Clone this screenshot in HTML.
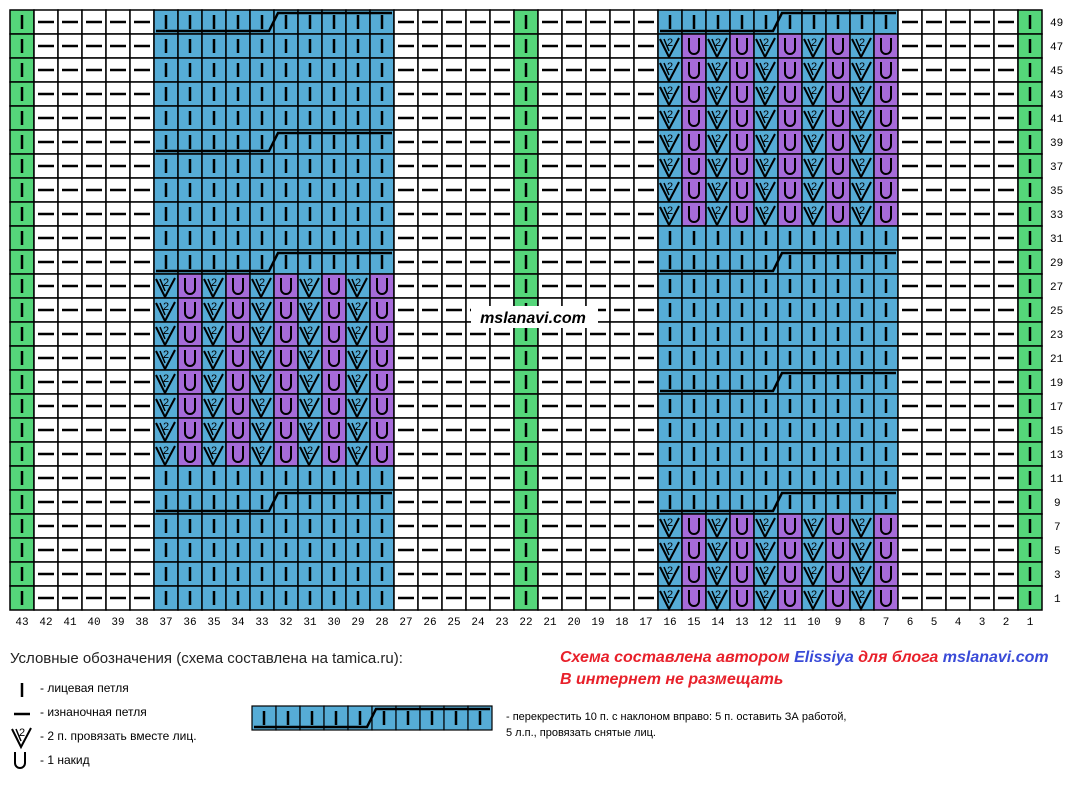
<!DOCTYPE html>
<html><head><meta charset="utf-8"><style>
body{margin:0;background:#fff;width:1076px;height:785px;overflow:hidden;font-family:"Liberation Sans",sans-serif}
svg{position:absolute;left:0;top:0}
.t{position:absolute;white-space:nowrap}
</style></head><body>
<svg id="s" width="1076" height="785" xmlns="http://www.w3.org/2000/svg" font-family="Liberation Mono, monospace" font-size="11" fill="#000">
<g id="cells"></g>
<g text-anchor="middle">
<text x="22" y="625">43</text><text x="46" y="625">42</text><text x="70" y="625">41</text><text x="94" y="625">40</text><text x="118" y="625">39</text><text x="142" y="625">38</text><text x="166" y="625">37</text><text x="190" y="625">36</text><text x="214" y="625">35</text><text x="238" y="625">34</text><text x="262" y="625">33</text><text x="286" y="625">32</text><text x="310" y="625">31</text><text x="334" y="625">30</text><text x="358" y="625">29</text><text x="382" y="625">28</text><text x="406" y="625">27</text><text x="430" y="625">26</text><text x="454" y="625">25</text><text x="478" y="625">24</text><text x="502" y="625">23</text><text x="526" y="625">22</text><text x="550" y="625">21</text><text x="574" y="625">20</text><text x="598" y="625">19</text><text x="622" y="625">18</text><text x="646" y="625">17</text><text x="670" y="625">16</text><text x="694" y="625">15</text><text x="718" y="625">14</text><text x="742" y="625">13</text><text x="766" y="625">12</text><text x="790" y="625">11</text><text x="814" y="625">10</text><text x="838" y="625">9</text><text x="862" y="625">8</text><text x="886" y="625">7</text><text x="910" y="625">6</text><text x="934" y="625">5</text><text x="958" y="625">4</text><text x="982" y="625">3</text><text x="1006" y="625">2</text><text x="1030" y="625">1</text>
</g>
<g>
<text x="1050" y="26">49</text><text x="1050" y="50">47</text><text x="1050" y="74">45</text><text x="1050" y="98">43</text><text x="1050" y="122">41</text><text x="1050" y="146">39</text><text x="1050" y="170">37</text><text x="1050" y="194">35</text><text x="1050" y="218">33</text><text x="1050" y="242">31</text><text x="1050" y="266">29</text><text x="1050" y="290">27</text><text x="1050" y="314">25</text><text x="1050" y="338">23</text><text x="1050" y="362">21</text><text x="1050" y="386">19</text><text x="1050" y="410">17</text><text x="1050" y="434">15</text><text x="1050" y="458">13</text><text x="1050" y="482">11</text><text x="1054" y="506">9</text><text x="1054" y="530">7</text><text x="1054" y="554">5</text><text x="1054" y="578">3</text><text x="1054" y="602">1</text>
</g>
<rect x="471" y="306" width="127" height="22" fill="#fff"/>
<text x="533" y="323" text-anchor="middle" font-family="Liberation Sans, sans-serif" font-size="16" font-weight="bold" font-style="italic">mslanavi.com</text>
<g id="leg"></g>
</svg>
<div class="t" style="left:10px;top:650px;font-size:15px;color:#222">Условные обозначения (схема составлена на tamica.ru):</div>
<div class="t" style="left:40px;top:681px;font-size:12px">- лицевая петля</div>
<div class="t" style="left:40px;top:705px;font-size:12px">- изнаночная петля</div>
<div class="t" style="left:40px;top:729px;font-size:12px">- 2 п. провязать вместе лиц.</div>
<div class="t" style="left:40px;top:753px;font-size:12px">- 1 накид</div>
<div class="t" style="left:560px;top:649px;font-size:16px;font-weight:bold;font-style:italic;color:#e8202a">Схема составлена автором <span style="color:#3a4bd8">Elissiya</span> для блога <span style="color:#3a4bd8">mslanavi.com</span></div>
<div class="t" style="left:560px;top:671px;font-size:16px;font-weight:bold;font-style:italic;color:#e8202a">В интернет не размещать</div>
<div class="t" style="left:506px;top:711px;font-size:11px">- перекрестить 10 п. с наклоном вправо: 5 п. оставить ЗА работой,</div>
<div class="t" style="left:506px;top:727px;font-size:11px">5 л.п., провязать снятые лиц.</div>
<script>
var NS="http://www.w3.org/2000/svg";
function el(p,t,a){var e=document.createElementNS(NS,t);for(var k in a)e.setAttribute(k,a[k]);p.appendChild(e);return e;}
var G=document.getElementById("cells"),L=document.getElementById("leg");
var BL="#56acd6",GR="#55d67a",PU="#a66bd9";
function knit(g,x,y){el(g,"line",{x1:x+12,y1:y+5,x2:x+12,y2:y+19,stroke:"#000","stroke-width":2.5});}
function purl(g,x,y){el(g,"line",{x1:x+4,y1:y+12,x2:x+20,y2:y+12,stroke:"#000","stroke-width":2.5});}
function vee(g,x,y){el(g,"polyline",{points:(x+2)+","+(y+5)+" "+(x+11)+","+(y+23)+" "+(x+21)+","+(y+4),fill:"none",stroke:"#000","stroke-width":2});
 el(g,"line",{x1:x+6,y1:y+5,x2:x+11,y2:y+17,stroke:"#000","stroke-width":1.5});
 var t=el(g,"text",{x:x+12,y:y+12,"font-size":11,"text-anchor":"middle","font-family":"Liberation Sans, sans-serif"});t.textContent="2";}
function yo(g,x,y){el(g,"path",{d:"M"+(x+7)+" "+(y+4)+" V"+(y+15)+" a5 5 0 0 0 10 0 V"+(y+4),fill:"none",stroke:"#000","stroke-width":2});}
function cross(g,x,y){el(g,"polyline",{points:(x+2)+","+(y+21)+" "+(x+115)+","+(y+21)+" "+(x+124)+","+(y+3)+" "+(x+238)+","+(y+3),fill:"none",stroke:"#000","stroke-width":2.5});}
var leftPat=[27,25,23,21,19,17,15,13],rightPat=[47,45,43,41,39,37,35,33,7,5,3,1];
var leftX=[49,39,29,9],rightX=[49,29,19,9];
for(var r=0;r<25;r++){var rn=49-2*r,y=10+24*r;
 for(var i=0;i<43;i++){var c=43-i,x=10+24*i,t;
  if(c==43||c==22||c==1)t="g";
  else if(c<=37&&c>=28)t=leftPat.indexOf(rn)>=0?((37-c)%2?"u":"v"):"k";
  else if(c<=16&&c>=7)t=rightPat.indexOf(rn)>=0?((16-c)%2?"u":"v"):"k";
  else t="p";
  var fill=t=="g"?GR:t=="p"?"#fff":t=="u"?PU:BL;
  el(G,"rect",{x:x,y:y,width:24,height:24,fill:fill,stroke:"#000","stroke-width":1.5});
  if(t=="g"||t=="k")knit(G,x,y);else if(t=="p")purl(G,x,y);else if(t=="v")vee(G,x,y);else yo(G,x,y);
 }
 if(leftX.indexOf(rn)>=0)cross(G,154,y);
 if(rightX.indexOf(rn)>=0)cross(G,658,y);
}
// legend chart
for(var i=0;i<10;i++){var x=252+24*i;el(L,"rect",{x:x,y:706,width:24,height:24,fill:BL,stroke:"#000","stroke-width":1.2});knit(L,x,706);}
cross(L,252,706);
knit(L,10,678);purl(L,10,702);vee(L,10,724);yo(L,8,748);
</script>
</body></html>
